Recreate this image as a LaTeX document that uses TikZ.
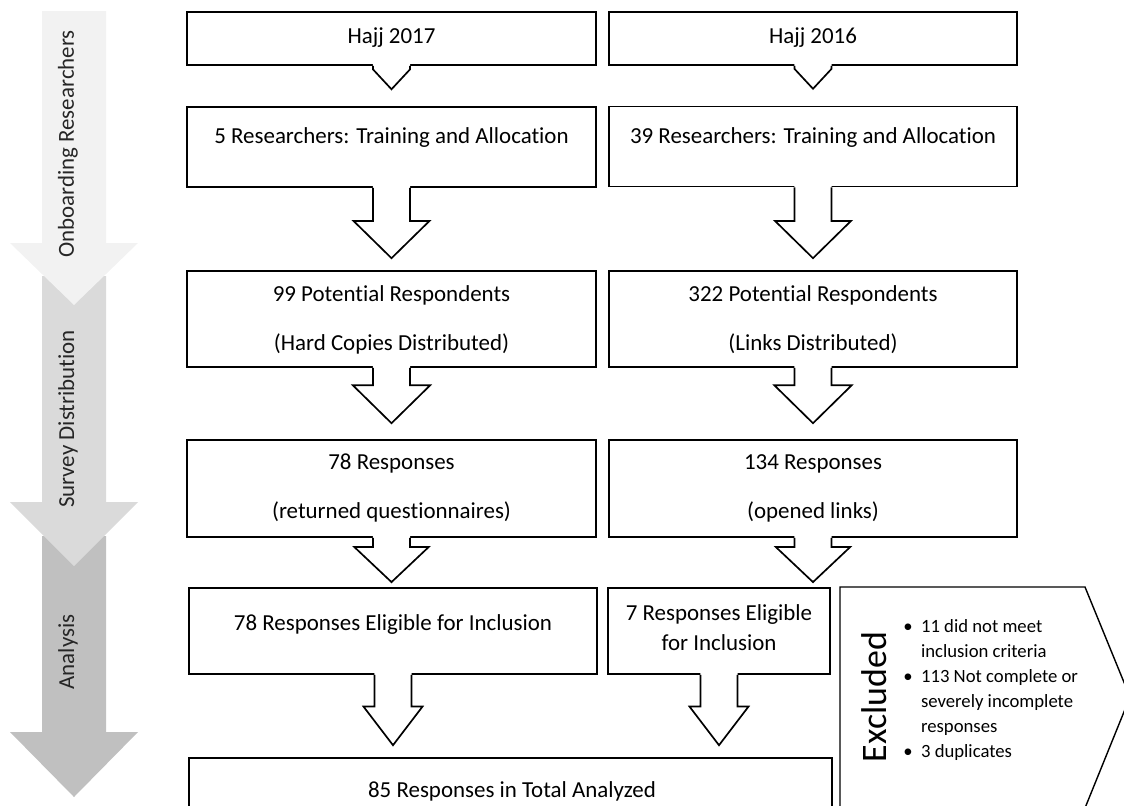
\documentclass[tikz,border=0pt]{standalone}
\usepackage{fontspec}
\setmainfont{Carlito}[Ligatures=NoCommon]
\usetikzlibrary{calc}

\definecolor{phaseA}{HTML}{F2F2F2}
\definecolor{phaseB}{HTML}{DADADA}
\definecolor{phaseC}{HTML}{C0C0C0}

% block arrow below box #1, tip just above box #2
% #3 head half width, #4 head length, #5 gap to next box
\newcommand{\boxarrow}[5]{%
  \path let \p1=(#1.south), \p2=(#2.north) in
    coordinate (atop) at (\x1,\y1) coordinate (atip) at (\x1,\y2+#5);
  \fill[white] ([xshift=-13.2pt,yshift=2pt]atop) -- ([xshift=-13.2pt,yshift=#4]atip)
    -- ([xshift=-#3,yshift=#4]atip) -- (atip) -- ([xshift=#3,yshift=#4]atip)
    -- ([xshift=13.2pt,yshift=#4]atip) -- ([xshift=13.2pt,yshift=2pt]atop) -- cycle;
  \draw[line width=1.2pt,line join=miter] ([xshift=-13.2pt]atop) -- ([xshift=-13.2pt,yshift=#4]atip)
    -- ([xshift=-#3,yshift=#4]atip) -- (atip) -- ([xshift=#3,yshift=#4]atip)
    -- ([xshift=13.2pt,yshift=#4]atip) -- ([xshift=13.2pt]atop);
}

\begin{document}
\begin{tikzpicture}[x=0.025cm,y=-0.025cm,
  box/.style={draw,line width=1.2pt,fill=white,inner sep=0pt},
  txt/.style={font=\fontsize{16.3}{34.9}\selectfont,align=center,inner sep=0pt},
  band/.style={font=\fontsize{16.3}{20}\selectfont,rotate=90,text=black!85,inner sep=0pt}]
\useasboundingbox (0,0) rectangle (1124,805);
\clip (0,0) rectangle (1124,805);
% phases on the left
\foreach \top/\head/\tip/\col in {536/732/797/phaseC,276/502/566/phaseB,11/243/305/phaseA}{
  \fill[\col] (42,\top) -- (106,\top) -- (106,\head) -- (138,\head) -- (74,\tip) -- (10,\head) -- (42,\head) -- cycle;
}
\node[band] (ph1) at (68,144) {Onboarding Researchers};
\node[band] (ph2) at (68,419) {Survey Distribution};
\node[band] (ph3) at (68,652) {Analysis};
% boxes
\node[box,minimum width=10.22cm,minimum height=1.32cm] (h17) at (391.5,38.5) {};
\node[box,minimum width=10.2cm,minimum height=1.32cm] (h16) at (813,38.5) {};
\node[box,minimum width=10.22cm,minimum height=2cm] (r17) at (391.5,147) {};
\node[box,minimum width=10.2cm,minimum height=2cm] (r16) at (813,146.5) {};
\node[box,minimum width=10.22cm,minimum height=2.4cm] (p17) at (391.5,319) {};
\node[box,minimum width=10.2cm,minimum height=2.4cm] (p16) at (813,319) {};
\node[box,minimum width=10.22cm,minimum height=2.42cm] (s17) at (391.5,488.5) {};
\node[box,minimum width=10.2cm,minimum height=2.42cm] (s16) at (813,488.5) {};
\node[box,minimum width=10.2cm,minimum height=2.15cm] (e17) at (393,631) {};
\node[box,minimum width=5.55cm,minimum height=2.15cm] (e16) at (719,631) {};
\node[box,minimum width=16.07cm,minimum height=1.8cm] (tot) at (510.5,794) {};
% texts
\node[txt] (th17) at (391.5,38) {Hajj 2017};
\node[txt] (th16) at (813,38) {Hajj 2016};
\node[txt] (tr17) at (391.5,138) {5 Researchers: Training and Allocation};
\node[txt] (tr16) at (813,138) {39 Researchers: Training and Allocation};
\node[txt] (tp17) at (391.5,319.5) {99 Potential Respondents\\(Hard Copies Distributed)};
\node[txt] (tp16) at (813,319.5) {322 Potential Respondents\\(Links Distributed)};
\node[txt] (ts17) at (391.5,488) {78 Responses\\(returned questionnaires)};
\node[txt] (ts16) at (813,488) {134 Responses\\(opened links)};
\node[txt] (te17) at (393,624) {78 Responses Eligible for Inclusion};
\node[txt,font=\fontsize{16.3}{21.3}\selectfont] (te16) at (719,628) {7 Responses Eligible\\for Inclusion};
\node[txt] (ttot) at (512,791) {85 Responses in Total Analyzed};
% arrows
\boxarrow{h17}{r17}{13.2pt}{14.2pt}{12pt}
\boxarrow{h16}{r16}{13.2pt}{14.2pt}{12pt}
\boxarrow{r17}{p17}{27pt}{26.5pt}{8.5pt}
\boxarrow{r16}{p16}{27pt}{26.5pt}{8.5pt}
\boxarrow{p17}{s17}{27.5pt}{27pt}{11.4pt}
\boxarrow{p16}{s16}{27.5pt}{27pt}{11.4pt}
\boxarrow{s17}{e17}{26.5pt}{25pt}{3.6pt}
\boxarrow{s16}{e16}{26.5pt}{25pt}{3.6pt}
\boxarrow{e17}{tot}{21pt}{27.5pt}{8.5pt}
\boxarrow{e16}{tot}{21pt}{27.5pt}{8.5pt}
% excluded
\draw[line width=1pt,line join=miter] (840,808) -- (840,587) -- (1085,587) -- (1130,697) -- (1085,808);
\node[rotate=90,font=\fontsize{25.5}{30}\selectfont,inner sep=0pt] (exc) at (874,697) {Excluded};
\node[anchor=west,inner sep=0pt,font=\fontsize{13.3}{17.8}\selectfont] (exl) at (903,690) {%
  \begin{tabular}{@{}l@{\hspace{6pt}}l@{}}
  \textbullet & 11 did not meet\\
   & inclusion criteria\\
  \textbullet & 113 Not complete or\\
   & severely incomplete\\
   & responses\\
  \textbullet & 3 duplicates
  \end{tabular}};
\end{tikzpicture}
\end{document}
